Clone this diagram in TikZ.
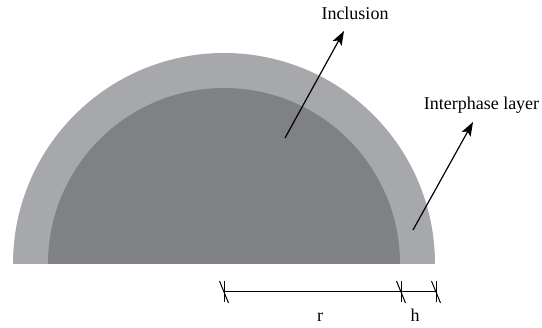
\documentclass[tikz,border=0pt]{standalone}
\usepackage{fontspec}
\setmainfont{Liberation Serif}
\usetikzlibrary{arrows.meta}
\definecolor{layergray}{HTML}{A7A8AB}
\definecolor{coregray}{HTML}{808184}
\tikzset{
  lbl/.style={font=\fontsize{18}{20}\selectfont, inner sep=0pt, anchor=base},
  pointer/.style={-{Stealth[length=14pt, width=10pt, inset=3pt]}, line width=1.2pt},
  dimline/.style={line width=1pt},
  tick/.style={line width=1pt}
}

\begin{document}
\begin{tikzpicture}[x=1pt,y=-1pt]
  \useasboundingbox (0,0) rectangle (542,328);

  % interphase layer and inclusion
  \fill[layergray] (13,264) arc[start angle=180, end angle=360, radius=211] -- cycle;
  \fill[coregray] (48,264) arc[start angle=180, end angle=360, radius=176] -- cycle;

  % labels
  \node[lbl] (incl) at (355,20) {Inclusion};
  \node[lbl] (layer) at (481.5,110) {Interphase layer};
  \coordinate (inclfoot) at (285,138);
  \coordinate (incltip) at (344,31);
  \coordinate (layerfoot) at (413,230);
  \coordinate (layertip) at (473,122);
  \draw[pointer] (inclfoot) -- (incltip);
  \draw[pointer] (layerfoot) -- (layertip);

  % dimensions r and h
  \coordinate (d0) at (224,292);
  \coordinate (d1) at (401,292);
  \coordinate (d2) at (436,292);
  \draw[dimline] (d0) -- (d2);
  \foreach \p in {d0,d1,d2}{
    \draw[tick] ([yshift=-10pt]\p) -- ([yshift=11pt]\p);
    \draw[tick] ([xshift=-4.5pt,yshift=11pt]\p) -- ([xshift=4.5pt,yshift=-11pt]\p);
  }
  \node[lbl] (rlbl) at (320,322) {r};
  \node[lbl] (hlbl) at (415,322) {h};
\end{tikzpicture}
\end{document}
